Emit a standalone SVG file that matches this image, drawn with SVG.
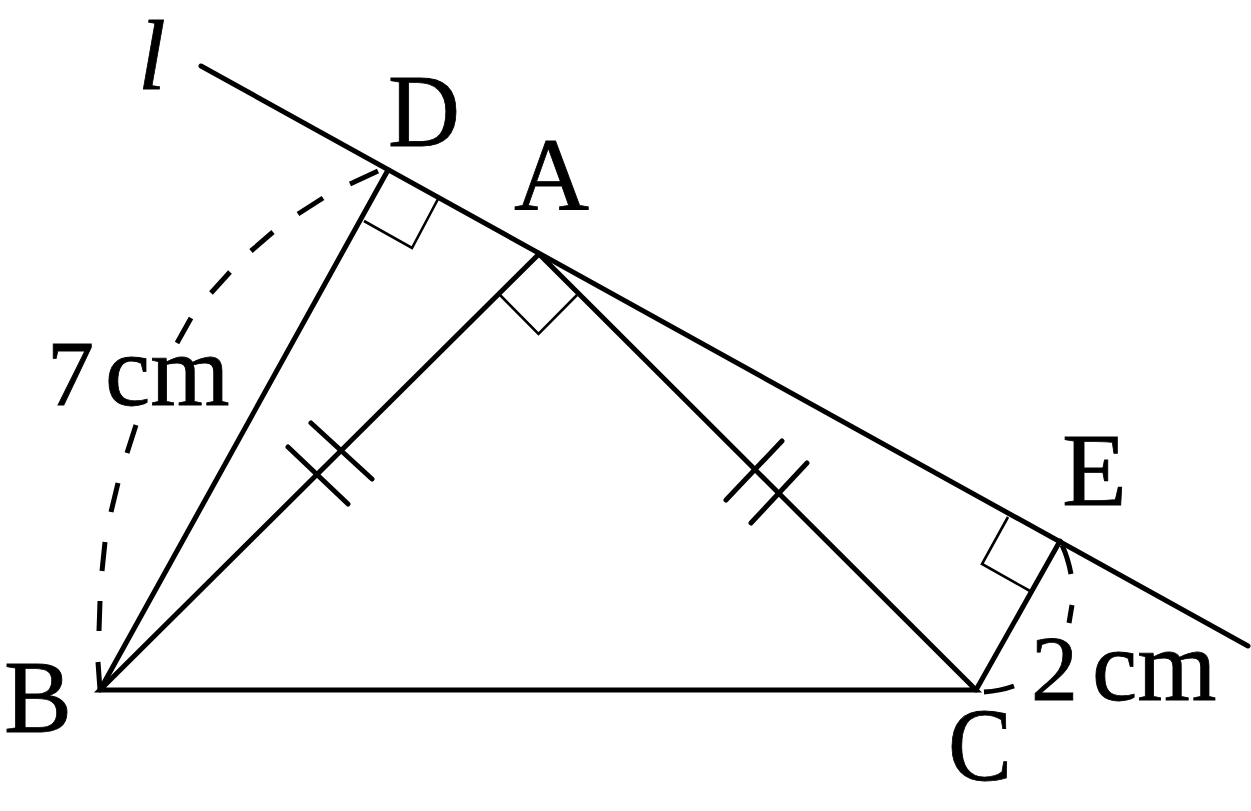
<svg xmlns="http://www.w3.org/2000/svg" width="1251" height="811" viewBox="0 0 1251 811">
<style>
.m{fill:none;stroke:#000;stroke-width:5;stroke-linecap:round}
.b{fill:none;stroke:#000;stroke-width:5;stroke-linecap:butt}
.t{fill:none;stroke:#000;stroke-width:2.6;stroke-linejoin:miter}
text{font-family:"Liberation Serif","Times New Roman",serif;font-size:104px;fill:#000;stroke:#000;stroke-width:0.8}
.u{font-size:102px}
</style>
<rect width="1251" height="811" fill="#fff"/>
<g id="connectors">
<path id="line-l" class="m" d="M201 66L1248 646"/>
<path id="triangle" class="m" stroke-linejoin="miter" d="M100 690L539 254L976 690Z"/>
<path id="BD" class="m" d="M100 690L388 170"/>
<path id="CE" class="m" d="M976 690L1060 541"/>
<path id="ticks" class="m" d="M288 447L348 504M311 423L372 479M726 500L782 441M751 523L807 463"/>
<path id="right-angles" class="t" d="M364 221L412 248L438 199M500 295L538.500 334L577 295M1008 517L982 564L1030 591"/>
<path id="dash-BD" class="b" d="M100 690L98 662M99 631L100 601M102 571L105 542M111 512L118 483M127 453L136 425M177 343L191 318M211 293L230 272M251 251L273 232M298 214L323 198M350 184L378 171"/>
<path id="dash-CE" class="b" d="M1062 545Q1068 558 1071 574M1072 605L1069 623M984 692Q1000 691 1014 686"/>
</g>
<g id="node-l"><text x="138" y="89" font-style="italic" style="font-size:100px">l</text></g>
<g id="node-D"><text x="388" y="146" textLength="72" lengthAdjust="spacingAndGlyphs">D</text></g>
<g id="node-A"><text x="514" y="210" textLength="75" lengthAdjust="spacingAndGlyphs">A</text></g>
<g id="node-E"><text x="1062" y="505" textLength="65" lengthAdjust="spacingAndGlyphs">E</text></g>
<g id="node-B"><text x="4" y="732" textLength="68" lengthAdjust="spacingAndGlyphs">B</text></g>
<g id="node-C"><text x="948" y="780" textLength="64" lengthAdjust="spacingAndGlyphs">C</text></g>
<g id="label-7cm"><text class="u" x="47" y="405" word-spacing="-14.5"><tspan style="font-size:94px">7</tspan> cm</text></g>
<g id="label-2cm"><text class="u" x="1031" y="700" word-spacing="-11.5"><tspan style="font-size:94px">2</tspan> cm</text></g>
</svg>
